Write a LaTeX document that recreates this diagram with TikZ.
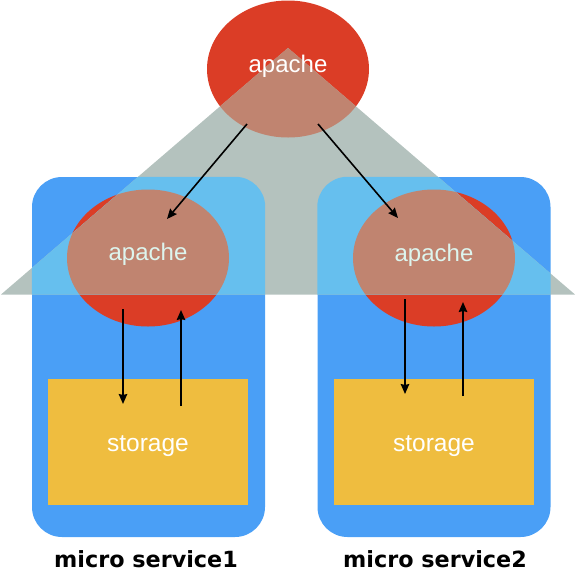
\documentclass[tikz,border=0pt]{standalone}
\usepackage{fontspec}
\setmainfont{Liberation Sans}
\newfontfamily\lblfont{DejaVu Sans}
\usetikzlibrary{shapes.geometric,arrows.meta}
\definecolor{redE}{HTML}{DB3D26}
\definecolor{blueB}{HTML}{4A9FF6}
\definecolor{lightB}{HTML}{66BFEE}
\definecolor{grayT}{HTML}{B4C2BE}
\definecolor{brownO}{HTML}{C08470}
\definecolor{storeY}{HTML}{EFBD3F}
\definecolor{tintT}{HTML}{DDF5EE}
\tikzset{
  svcbox/.style={fill=blueB, rounded corners=30pt, minimum width=233pt, minimum height=360pt, inner sep=0pt},
  apachenode/.style={ellipse, fill=redE, minimum width=162pt, minimum height=137pt, inner sep=0pt},
  storebox/.style={fill=storeY, minimum width=200pt, minimum height=126pt, inner sep=0pt},
  apachetxt/.style={anchor=base, inner sep=0pt, font=\fontsize{24}{28}\selectfont},
  storetxt/.style={anchor=base, inner sep=0pt, text=white, font=\fontsize{24.5}{29}\selectfont},
  lbltxt/.style={anchor=base, inner sep=0pt, text=black, font=\lblfont\bfseries\fontsize{22.3}{27}\selectfont},
  arr/.style={-{Stealth[length=10pt,width=8.5pt,inset=1pt]}, line width=1.6pt, black}
}
\begin{document}
\begin{tikzpicture}[x=1pt,y=-1pt]
\useasboundingbox (0,0) rectangle (576,574);
% service boxes
\node[svcbox] (b1) at (148.5,357) {};
\node[svcbox] (b2) at (434,357) {};
% storage
\node[storebox] (s1) at (148,442) {};
\node[storebox] (s2) at (434,442) {};
% apache ellipses
\node[apachenode] (top) at (288,69) {};
\node[apachenode] (e1) at (148,258) {};
\node[apachenode] (e2) at (434,258) {};
% translucent triangle overlay
\begin{scope}
  \clip (288,48) -- (1,294.5) -- (575,294.5) -- cycle;
  \fill[grayT] (0,0) rectangle (576,300);
  \fill[lightB, rounded corners=30pt] (b1.south west) rectangle (b1.north east);
  \fill[lightB, rounded corners=30pt] (b2.south west) rectangle (b2.north east);
  \fill[brownO] (top.center) ellipse [x radius=81pt, y radius=68.5pt];
  \fill[brownO] (e1.center) ellipse [x radius=81pt, y radius=68.5pt];
  \fill[brownO] (e2.center) ellipse [x radius=81pt, y radius=68.5pt];
\end{scope}
% texts
\node[apachetxt, text=white] (t0) at (288,72) {apache};
\node[apachetxt, text=tintT] (t1) at (148,260) {apache};
\node[apachetxt, text=tintT] (t2) at (434,261) {apache};
\node[storetxt] (st1) at (148,451) {storage};
\node[storetxt] (st2) at (434,451) {storage};
\node[lbltxt] (l1) at (146,567) {micro service1};
\node[lbltxt] (l2) at (435,567) {micro service2};
% connectors
\draw[arr] ([shift={(-41,55)}]top.center) -- ([shift={(19,-39)}]e1.center);
\draw[arr] ([shift={(30,55)}]top.center) -- ([shift={(-36,-40)}]e2.center);
\draw[arr] ([shift={(-25,51)}]e1.center) -- ([shift={(-25,-38)}]s1.center);
\draw[arr] ([shift={(33,-36)}]s1.center) -- ([shift={(33,52)}]e1.center);
\draw[arr] ([shift={(-29,41)}]e2.center) -- ([shift={(-29,-48)}]s2.center);
\draw[arr] ([shift={(29,-46)}]s2.center) -- ([shift={(29,44)}]e2.center);
\end{tikzpicture}
\end{document}
